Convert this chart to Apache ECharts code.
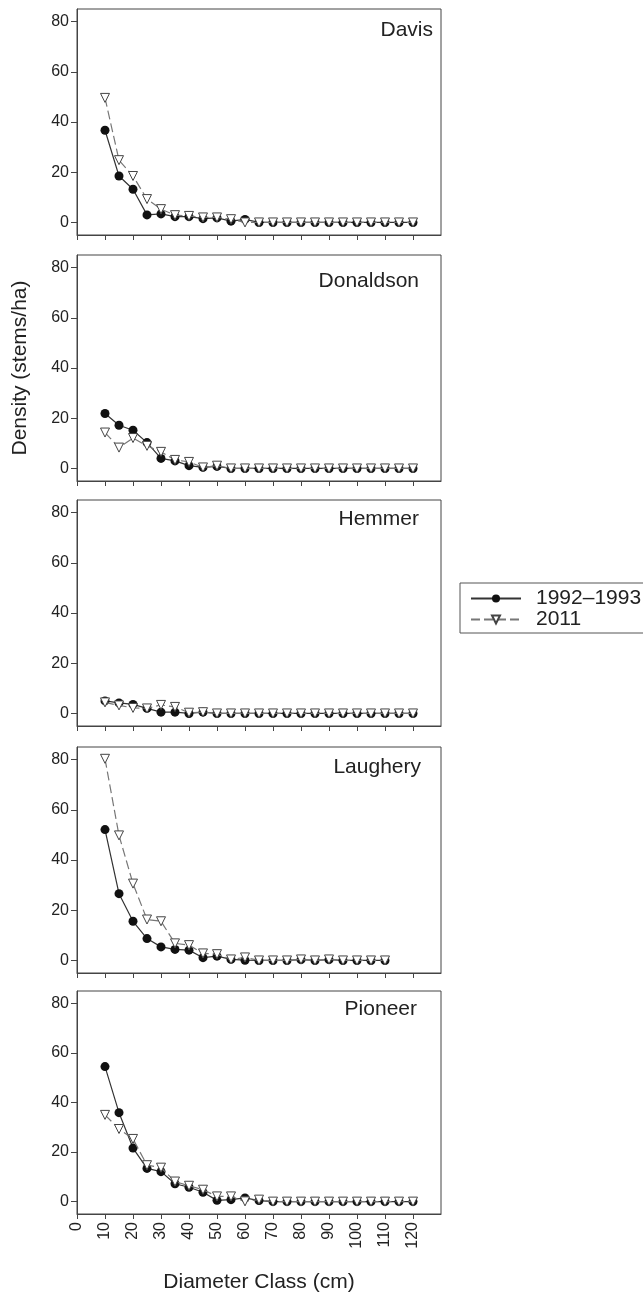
<!DOCTYPE html>
<html>
<head>
<meta charset="utf-8">
<script src="https://cdn.jsdelivr.net/npm/echarts@6/dist/echarts.min.js"></script>
<style>
  html, body { margin: 0; padding: 0; background: #fff; }
  #chart { width: 643px; height: 1294px; }
</style>
</head>
<body>
<div id="chart"></div>
<script>
// diameter classes (cm)
var diameterClasses = [10, 15, 20, 25, 30, 35, 40, 45, 50, 55, 60, 65, 70, 75, 80, 85, 90, 95, 100, 105, 110, 115, 120];
var xTickLabels = [0, 10, 20, 30, 40, 50, 60, 70, 80, 90, 100, 110, 120];
var yTickLabels = [0, 20, 40, 60, 80];

var sites = ['Davis', 'Donaldson', 'Hemmer', 'Laughery', 'Pioneer'];
var seriesNames = ['1992–1993', '2011'];

// density (stems/ha) per class
var davis1992 = [36.7, 18.5, 13.2, 3.0, 3.4, 2.3, 2.3, 1.5, 1.8, 0.5, 1.2, 0, 0, 0, 0, 0, 0, 0, 0, 0, 0, 0, 0];
var davis2011 = [49.6, 24.8, 18.5, 9.3, 5.3, 2.9, 2.6, 2.0, 2.0, 1.3, 0, 0, 0, 0, 0, 0, 0, 0, 0, 0, 0, 0, 0];
var donaldson1992 = [21.9, 17.2, 15.2, 10.3, 4.0, 3.0, 1.1, 0.4, 0.8, 0, 0, 0, 0, 0, 0, 0, 0, 0, 0, 0, 0, 0, 0];
var donaldson2011 = [14.3, 8.3, 12.1, 9.0, 6.6, 3.4, 2.6, 0.4, 1.1, 0, 0, 0, 0, 0, 0, 0, 0, 0, 0, 0, 0, 0, 0];
var hemmer1992 = [5.0, 4.2, 3.6, 2.0, 0.5, 0.5, 0, 0.5, 0, 0, 0, 0, 0, 0, 0, 0, 0, 0, 0, 0, 0, 0, 0];
var hemmer2011 = [4.4, 3.2, 2.2, 2.0, 3.4, 2.6, 0.3, 0.5, 0, 0, 0, 0, 0, 0, 0, 0, 0, 0, 0, 0, 0, 0, 0];
// Laughery only goes to 110 cm
var laughery1992 = [52.1, 26.6, 15.6, 8.7, 5.4, 4.4, 4.1, 1.1, 1.7, 0.4, 0.1, 0, 0, 0, 0.3, 0, 0.3, 0, 0, 0, 0];
var laughery2011 = [80.3, 49.8, 30.6, 16.3, 15.6, 6.8, 6.1, 2.8, 2.5, 0.4, 1.2, 0, 0, 0, 0.4, 0, 0.4, 0, 0, 0, 0];
var pioneer1992 = [54.5, 35.9, 21.6, 13.4, 12.1, 7.2, 5.8, 3.8, 0.5, 0.8, 1.5, 0.4, 0, 0, 0, 0, 0, 0, 0, 0, 0, 0, 0];
var pioneer2011 = [35.0, 29.3, 25.3, 14.7, 13.7, 8.1, 6.4, 4.8, 2.1, 2.1, 0.1, 0.8, 0, 0, 0, 0, 0, 0, 0, 0, 0, 0, 0];

var data1992 = [davis1992, donaldson1992, hemmer1992, laughery1992, pioneer1992];
var data2011 = [davis2011, donaldson2011, hemmer2011, laughery2011, pioneer2011];

// panel layout
var panelTops = [9, 255, 500, 747, 991];
var panelHeight = 226;
var titleTops = [20, 271, 509, 757, 999];
var titleRights = [210, 224, 224, 222, 226];

var font = 'Liberation Sans, Arial, sans-serif';
var axisColor = '#444';

function pairs(vals) {
    var out = [];
    for (var i = 0; i < vals.length; i++) {
        out.push([diameterClasses[i], vals[i]]);
    }
    return out;
}

var grids = [], xAxes = [], yAxes = [], series = [], titles = [];

for (var p = 0; p < sites.length; p++) {
    var last = p === sites.length - 1;
    grids.push({
        left: 77, right: 202, top: panelTops[p], height: panelHeight,
        show: true, borderColor: axisColor, borderWidth: 1, backgroundColor: '#fff'
    });
    xAxes.push({
        gridIndex: p, type: 'value', min: 0, max: 130, interval: 10,
        axisLine: { show: true, onZero: false, lineStyle: { color: axisColor } },
        axisTick: { show: true, length: 5, customValues: xTickLabels, lineStyle: { color: axisColor } },
        axisLabel: {
            show: last, rotate: 90, customValues: xTickLabels, margin: 8,
            color: '#222', fontFamily: font, fontSize: 16
        },
        splitLine: { show: false },
        name: last ? 'Diameter Class (cm)' : '',
        nameLocation: 'middle', nameGap: 58,
        nameTextStyle: { color: '#222', fontFamily: font, fontSize: 21 }
    });
    yAxes.push({
        gridIndex: p, type: 'value', min: -5, max: 85,
        axisLine: { show: true, onZero: false, lineStyle: { color: axisColor } },
        axisTick: { show: true, length: 6, customValues: yTickLabels, lineStyle: { color: axisColor } },
        axisLabel: { customValues: yTickLabels, margin: 8, color: '#222', fontFamily: font, fontSize: 16 },
        splitLine: { show: false },
        name: p === 1 ? 'Density (stems/ha)' : '',
        nameLocation: 'middle', nameGap: 46,
        nameTextStyle: { color: '#222', fontFamily: font, fontSize: 21 }
    });
    titles.push({
        text: sites[p], right: titleRights[p], top: titleTops[p],
        textStyle: { color: '#222', fontFamily: font, fontSize: 21, fontWeight: 'normal' },
        padding: 0
    });
    series.push({
        name: seriesNames[0], type: 'line', xAxisIndex: p, yAxisIndex: p,
        data: pairs(data1992[p]),
        symbol: 'circle', symbolSize: 9,
        itemStyle: { color: '#111', borderColor: '#111', borderWidth: 0 },
        lineStyle: { color: '#333', width: 1.2 },
        z: 2
    });
    series.push({
        name: seriesNames[1], type: 'line', xAxisIndex: p, yAxisIndex: p,
        data: pairs(data2011[p]),
        symbol: 'triangle', symbolSize: 9, symbolRotate: 180,
        itemStyle: { color: '#fff', borderColor: '#444', borderWidth: 1 },
        lineStyle: { color: '#777', width: 1.2, type: [9, 4] },
        z: 3
    });
}

var chart = echarts.init(document.getElementById('chart'));
chart.setOption({
    animation: false,
    backgroundColor: '#fff',
    title: titles,
    legend: {
        data: seriesNames,
        orient: 'vertical',
        left: 460, top: 583,
        padding: [5, 10, 3, 10],
        itemGap: 0,
        itemWidth: 50, itemHeight: 10,
        borderColor: '#555', borderWidth: 1,
        textStyle: { color: '#222', fontFamily: font, fontSize: 21, padding: [0, 0, 0, 10] }
    },
    grid: grids,
    xAxis: xAxes,
    yAxis: yAxes,
    series: series
});
</script>
</body>
</html>
